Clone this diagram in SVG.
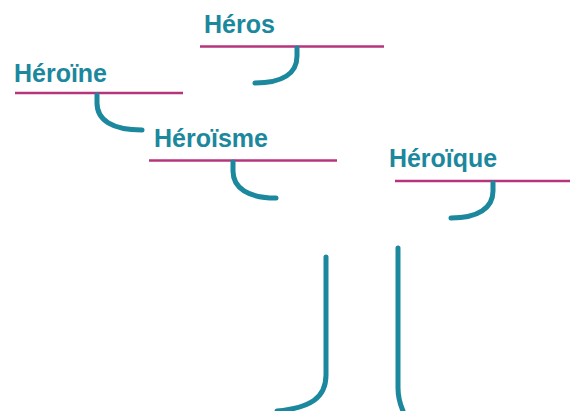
<svg xmlns="http://www.w3.org/2000/svg" width="570" height="411" viewBox="0 0 570 411">
<style>
.lbl{font-family:"Liberation Sans",Arial,sans-serif;font-weight:bold;font-size:26.5px;fill:#1b889d}
.rule{stroke:#b5347b;stroke-width:2.5;fill:none}
.hook{stroke:#1b889d;stroke-width:5;fill:none;stroke-linecap:round}
</style>
<rect width="570" height="411" fill="#fff"/>
<g id="node-heros">
<text class="lbl" x="204" y="33" textLength="71" lengthAdjust="spacingAndGlyphs">Héros</text>
<line class="rule" x1="200" y1="46.5" x2="384" y2="46.5"/>
</g>
<g id="node-heroine">
<text class="lbl" x="14" y="82" textLength="93" lengthAdjust="spacingAndGlyphs">Héroïne</text>
<line class="rule" x1="15" y1="93" x2="183" y2="93"/>
</g>
<g id="node-heroisme">
<text class="lbl" x="154" y="147" textLength="114" lengthAdjust="spacingAndGlyphs">Héroïsme</text>
<line class="rule" x1="149" y1="160.5" x2="337" y2="160.5"/>
</g>
<g id="node-heroique">
<text class="lbl" x="389" y="167" textLength="108" lengthAdjust="spacingAndGlyphs">Héroïque</text>
<line class="rule" x1="395" y1="181" x2="570" y2="181"/>
</g>
<g id="connectors">
<path class="hook" d="M297,48 V56 C297,74 282,83 255,83"/>
<path class="hook" d="M97,95 V103 C97,120 112,130 142,130"/>
<path class="hook" d="M233,162 V171 C233,188 248,198 276,198"/>
<path class="hook" d="M493,183 V191 C493,208 478,218 451,218"/>
<path class="hook" d="M326,257 V375 C326,398 310,408 277,411" stroke-linecap="butt"/>
<path class="hook" d="M398,248 V388 C398,398 400,404 403,411" stroke-linecap="butt"/>
</g>
</svg>
